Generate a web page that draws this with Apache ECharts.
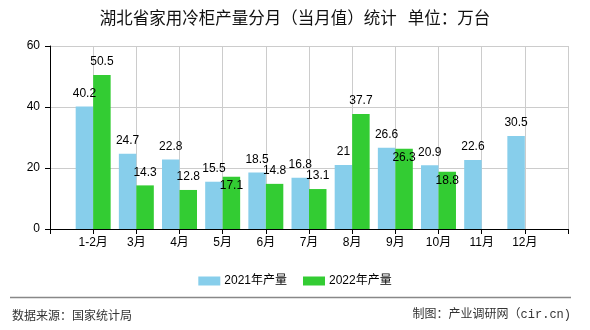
<!DOCTYPE html>
<html>
<head>
<meta charset="utf-8">
<script src="https://cdn.jsdelivr.net/npm/echarts@6/dist/echarts.min.js"></script>
<style>html,body{margin:0;padding:0;background:#fff;}#c{width:590px;height:330px;}</style>
</head>
<body>
<div id="c"></div>
<script>
var categories = ['1-2月','3月','4月','5月','6月','7月','8月','9月','10月','11月','12月'];
var seriesNames = ['2021年产量','2022年产量'];
var values2021 = [40.2, 24.7, 22.8, 15.5, 18.5, 16.8, 21, 26.6, 20.9, 22.6, 30.5];
var values2022 = [50.5, 14.3, 12.8, 17.1, 14.8, 13.1, 37.7, 26.3, 18.8, null, null];
var yTicks = [0, 20, 40, 60];
// labels of the 2022 series that sit inside the top of their bars in the reference
var insideLabelCats2022 = ['5月','9月','10月'];

var cats = [''].concat(categories, ['']);
function pad(arr, insideCats) {
  var out = [null];
  arr.forEach(function (v, i) {
    if (v === null) { out.push(null); return; }
    if (insideCats && insideCats.indexOf(categories[i]) >= 0) {
      out.push({ value: v, label: { position: 'insideTop', distance: 3 } });
    } else {
      out.push(v);
    }
  });
  out.push(null);
  return out;
}
var labelFont = { show: true, position: 'top', distance: 7, color: '#000', fontSize: 12, fontFamily: 'Liberation Sans, Arial, sans-serif' };

var chart = echarts.init(document.getElementById('c'), null, { renderer: 'canvas' });
chart.setOption({
  animation: false,
  backgroundColor: '#fff',
  title: {
    text: '湖北省家用冷柜产量分月（当月值）统计   单位：万台',
    left: 'center', top: 9, padding: 0,
    textStyle: { fontSize: 16.5, fontWeight: 'normal', color: '#111', fontFamily: 'Noto Sans CJK SC, sans-serif' }
  },
  legend: {
    data: seriesNames, top: 270, left: 'center', icon: 'rect',
    itemWidth: 22, itemHeight: 9, itemGap: 16,
    textStyle: { fontSize: 12, color: '#000', fontFamily: 'Liberation Sans, Noto Sans CJK SC, sans-serif', padding: [0,0,0,-1] }
  },
  grid: { left: 50, right: 22, top: 46, bottom: 101, containLabel: false },
  xAxis: {
    type: 'category', data: cats, boundaryGap: false,
    axisLine: { lineStyle: { color: '#000', width: 1 } },
    axisTick: { show: true, length: 5, lineStyle: { color: '#000' } },
    axisLabel: { color: '#000', fontSize: 12, margin: 8, interval: 0, fontFamily: 'Liberation Sans, Noto Sans CJK SC, sans-serif' },
    splitLine: { show: true, lineStyle: { color: '#ccc', width: 1 } }
  },
  yAxis: {
    type: 'value', min: yTicks[0], max: yTicks[yTicks.length - 1], interval: 20,
    axisLine: { show: true, lineStyle: { color: '#000', width: 1 } },
    axisTick: { show: true, length: 5, lineStyle: { color: '#000' } },
    axisLabel: { color: '#000', fontSize: 12, margin: 10, fontFamily: 'Liberation Sans, sans-serif' },
    splitLine: { show: true, lineStyle: { color: '#ccc', width: 1 } }
  },
  series: [
    { name: seriesNames[0], type: 'bar', data: pad(values2021), barGap: 0, barCategoryGap: '19%',
      itemStyle: { color: '#87CEEB' }, label: labelFont },
    { name: seriesNames[1], type: 'bar', data: pad(values2022, insideLabelCats2022), barGap: 0, barCategoryGap: '19%',
      itemStyle: { color: '#33CC33' }, label: labelFont }
  ],
  graphic: [
    { type: 'line', shape: { x1: 10, y1: 297.5, x2: 571, y2: 297.5 }, style: { stroke: '#888', lineWidth: 1.5 } },
    { type: 'text', left: 12, top: 309, style: { text: '数据来源：国家统计局', fill: '#333', font: '12px "Noto Sans CJK SC", sans-serif' } },
    { type: 'text', right: 19, top: 309, style: { text: '制图：产业调研网（cir.cn)', fill: '#333', font: '12px "Liberation Mono", "Noto Sans CJK SC", monospace' } }
  ]
});
</script>
</body>
</html>
